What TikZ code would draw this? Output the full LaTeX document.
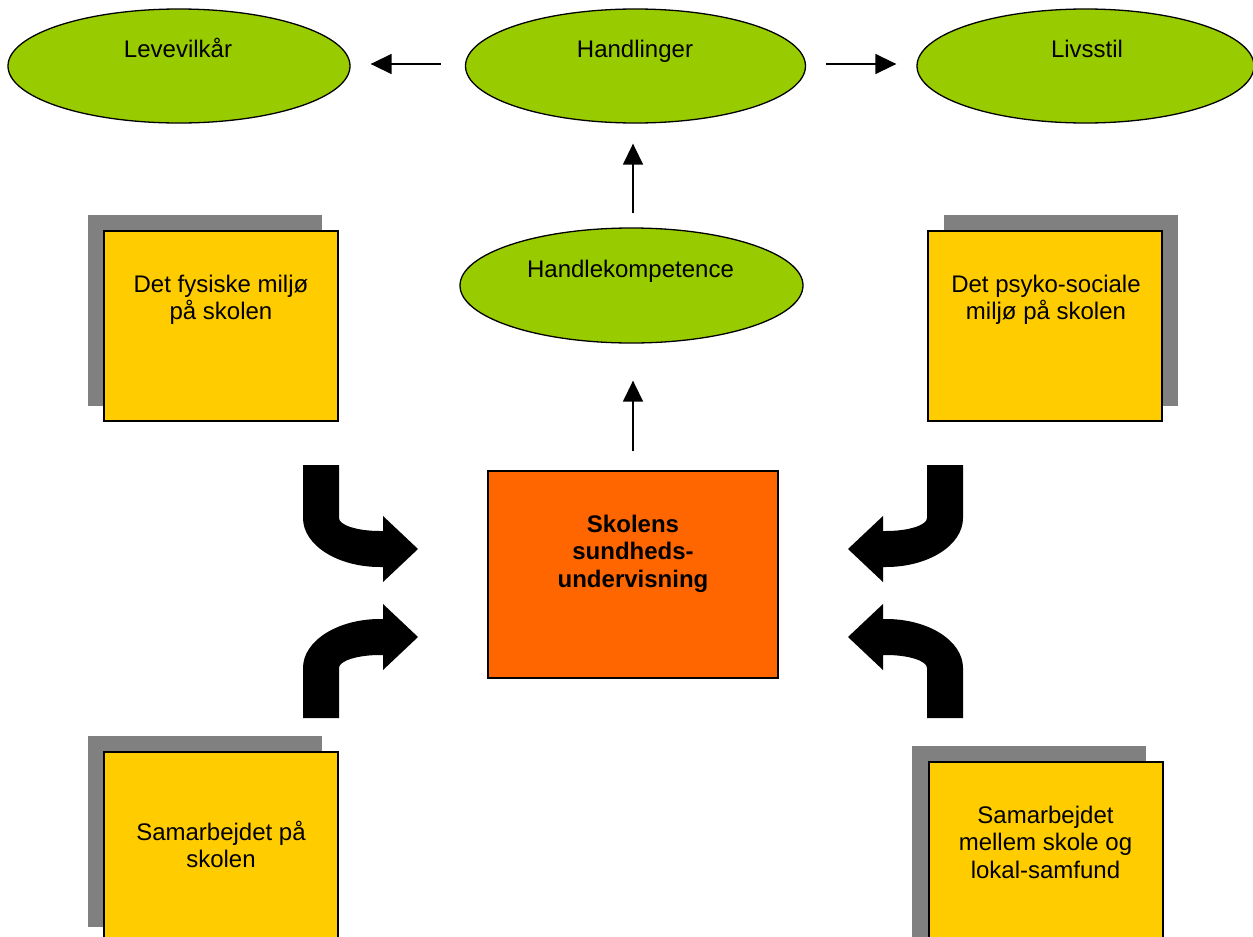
\documentclass[tikz,border=0pt]{standalone}
\usepackage{fontspec}
\setmainfont{Liberation Sans}
\usetikzlibrary{shapes.geometric,arrows.meta}
\definecolor{ellgreen}{HTML}{99CC00}
\definecolor{boxyellow}{HTML}{FFCC00}
\definecolor{boxorange}{HTML}{FF6600}
\definecolor{shadowgray}{HTML}{808080}
\newcommand{\mlines}[1]{\begin{tabular}[t]{@{}c@{}}#1\end{tabular}}
\begin{document}
\begin{tikzpicture}[x=1pt,y=-1pt,
  ell/.style={ellipse, draw=black, line width=1.3pt, fill=ellgreen, inner sep=0pt},
  ybox/.style={rectangle, draw=black, line width=1.5pt, fill=boxyellow, minimum width=234pt, minimum height=190pt, inner sep=0pt},
  obox/.style={rectangle, draw=black, line width=1.5pt, fill=boxorange, minimum width=290pt, minimum height=207pt, inner sep=0pt},
  shadowbox/.style={rectangle, fill=shadowgray, minimum width=234pt, minimum height=191pt, inner sep=0pt},
  txt/.style={anchor=base, inner sep=0pt, font=\fontsize{24pt}{27.6pt}\selectfont},
  arr/.style={line width=1.5pt, -{Triangle[length=21pt,width=20pt]}},
  bigarrow/.style={fill=black}]
\useasboundingbox (0,0) rectangle (1253,937);
\clip (0,0) rectangle (1253,937);

% ellipses
\node[ell, minimum width=342pt, minimum height=114pt] (lev) at (179,66) {};
\node[ell, minimum width=340pt, minimum height=114pt] (hand) at (635.5,66) {};
\node[ell, minimum width=337pt, minimum height=114pt] (liv) at (1085.5,66) {};
\node[ell, minimum width=343pt, minimum height=115pt] (hk) at (631.5,285.5) {};
\node[txt] (levT) at (178,57) {Levevilkår};
\node[txt] (handT) at (635,57) {Handlinger};
\node[txt] (livT) at (1087,57) {Livsstil};
\node[txt] (hkT) at (630.5,277) {Handlekompetence};

% straight arrows
\draw[arr] ([shift={(-24pt,2pt)}]hand.west) -- ([shift={(20pt,2pt)}]lev.east);
\draw[arr] ([shift={(20pt,2pt)}]hand.east) -- ([shift={(-20pt,2pt)}]liv.west);
\draw[arr] ([shift={(1.5pt,14pt)}]hk.north) -- ([shift={(-2.5pt,-20pt)}]hand.south);

% shadows and boxes
\node[shadowbox] (s1) at (205,310.5) {};
\node[ybox] (b1) at (221,326) {};
\node[shadowbox] (s2) at (1061,310.5) {};
\node[ybox] (b2) at (1045,326) {};
\node[shadowbox] (s3) at (205,831.5) {};
\node[ybox] (b3) at (221,847) {};
\node[shadowbox] (s4) at (1029,841.5) {};
\node[ybox] (b4) at (1046,857) {};
\node[obox] (sk) at (633,574.5) {};

\draw[arr] ([yshift=19pt]sk.north) -- ([shift={(1.5pt,-37pt)}]hk.south);

\node[txt] (b1T) at (221,292) {\mlines{Det fysiske miljø\\på skolen}};
\node[txt] (b2T) at (1046,292) {\mlines{Det psyko-sociale\\miljø på skolen}};
\node[txt] (b3T) at (221,840) {\mlines{Samarbejdet på\\skolen}};
\node[txt] (b4T) at (1045.5,823) {\mlines{Samarbejdet\\mellem skole og\\lokal-samfund}};
\node[txt, font=\fontsize{24pt}{27.6pt}\selectfont\bfseries] (skT) at (633,532) {\mlines{Skolens\\sundheds-\\undervisning}};

% curved block arrows
\fill[bigarrow] (303,465) -- (339,465) -- (339,518) .. controls (339,525.2) and (357.4,531) .. (380,531) -- (383,531) -- (383,516) -- (418,549) -- (383,582) -- (383,567) -- (380,567) .. controls (337.5,567) and (303,545.1) .. (303,518) -- cycle;
\fill[bigarrow] (303,718) -- (339,718) -- (339,668) .. controls (339,660.8) and (357.4,655) .. (380,655) -- (383,655) -- (383,670) -- (418,637) -- (383,604) -- (383,619) -- (380,619) .. controls (337.5,619) and (303,640.9) .. (303,668) -- cycle;
\fill[bigarrow] (963,465) -- (927,465) -- (927,518) .. controls (927,525.2) and (908.6,531) .. (886,531) -- (883,531) -- (883,516) -- (848,549) -- (883,582) -- (883,567) -- (886,567) .. controls (928.5,567) and (963,545.1) .. (963,518) -- cycle;
\fill[bigarrow] (963,718) -- (927,718) -- (927,668) .. controls (927,660.8) and (908.6,655) .. (886,655) -- (883,655) -- (883,670) -- (848,637) -- (883,604) -- (883,619) -- (886,619) .. controls (928.5,619) and (963,640.9) .. (963,668) -- cycle;
\end{tikzpicture}
\end{document}
